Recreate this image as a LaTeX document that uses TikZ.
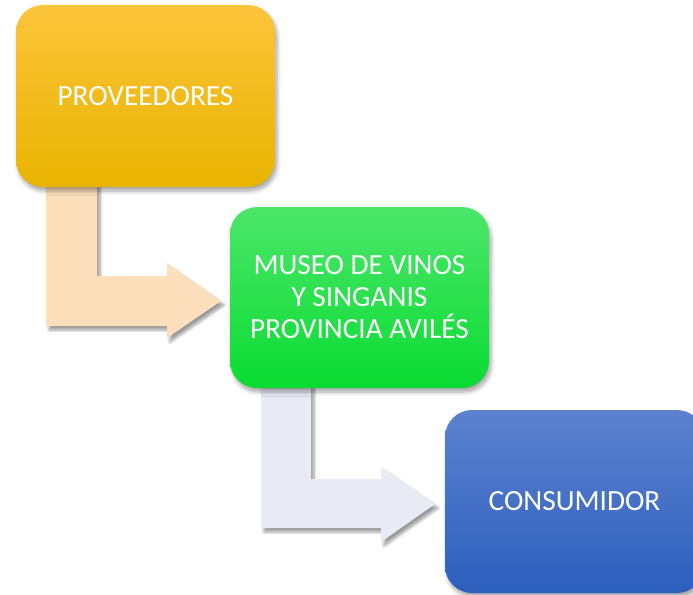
\documentclass[tikz,border=0pt]{standalone}
\usepackage{fontspec}
\setmainfont{Carlito}
\usetikzlibrary{shadows.blur}
\definecolor{yTop}{RGB}{252,196,58}
\definecolor{yMid}{RGB}{255,198,0}
\definecolor{yBot}{RGB}{232,180,0}
\definecolor{gTop}{RGB}{76,230,106}
\definecolor{gMid}{RGB}{30,226,70}
\definecolor{gBot}{RGB}{10,220,50}
\definecolor{bTop}{RGB}{92,130,206}
\definecolor{bMid}{RGB}{64,110,200}
\definecolor{bBot}{RGB}{45,95,190}
\definecolor{peach}{RGB}{253,223,187}
\definecolor{lav}{RGB}{232,234,244}
\tikzset{
  box/.style={rounded corners=27pt, minimum width=259pt, inner sep=0pt,
    text=white, align=center, font=\fontsize{29.3}{32}\selectfont,
    blur shadow={shadow xshift=2pt, shadow yshift=-4pt, shadow blur steps=6, shadow blur radius=4pt, shadow opacity=35}},
  bent/.style={draw=none,
    blur shadow={shadow xshift=3pt, shadow yshift=-4pt, shadow blur steps=6, shadow blur radius=3pt, shadow opacity=40}}
}
\begin{document}
\begin{tikzpicture}[x=1pt,y=-1pt]
\useasboundingbox (0,0) rectangle (693,594);
\clip (0,0) rectangle (693,594);
% bent arrows
\fill[peach, bent] (46,180) -- (97,180) -- (97,276) -- (167,276) -- (167,263) -- (221,301) -- (167,338) -- (167,326) -- (46,326) -- cycle;
\fill[lav, bent] (261,380) -- (311,380) -- (311,479) -- (381,479) -- (381,467) -- (435,504) -- (381,542) -- (381,528) -- (261,528) -- cycle;
% boxes
\node[box, minimum height=182pt, top color=yTop, middle color=yMid, bottom color=yBot] (prov) at (145.5,96) {PROVEEDORES};
\node[box, minimum height=181pt, top color=gTop, middle color=gMid, bottom color=gBot] (museo) at (359.5,297.5) {MUSEO DE VINOS\\Y SINGANIS\\PROVINCIA AVILÉS};
\node[box, minimum height=183pt, top color=bTop, middle color=bMid, bottom color=bBot] (cons) at (574.5,501.5) {CONSUMIDOR};
\end{tikzpicture}
\end{document}
